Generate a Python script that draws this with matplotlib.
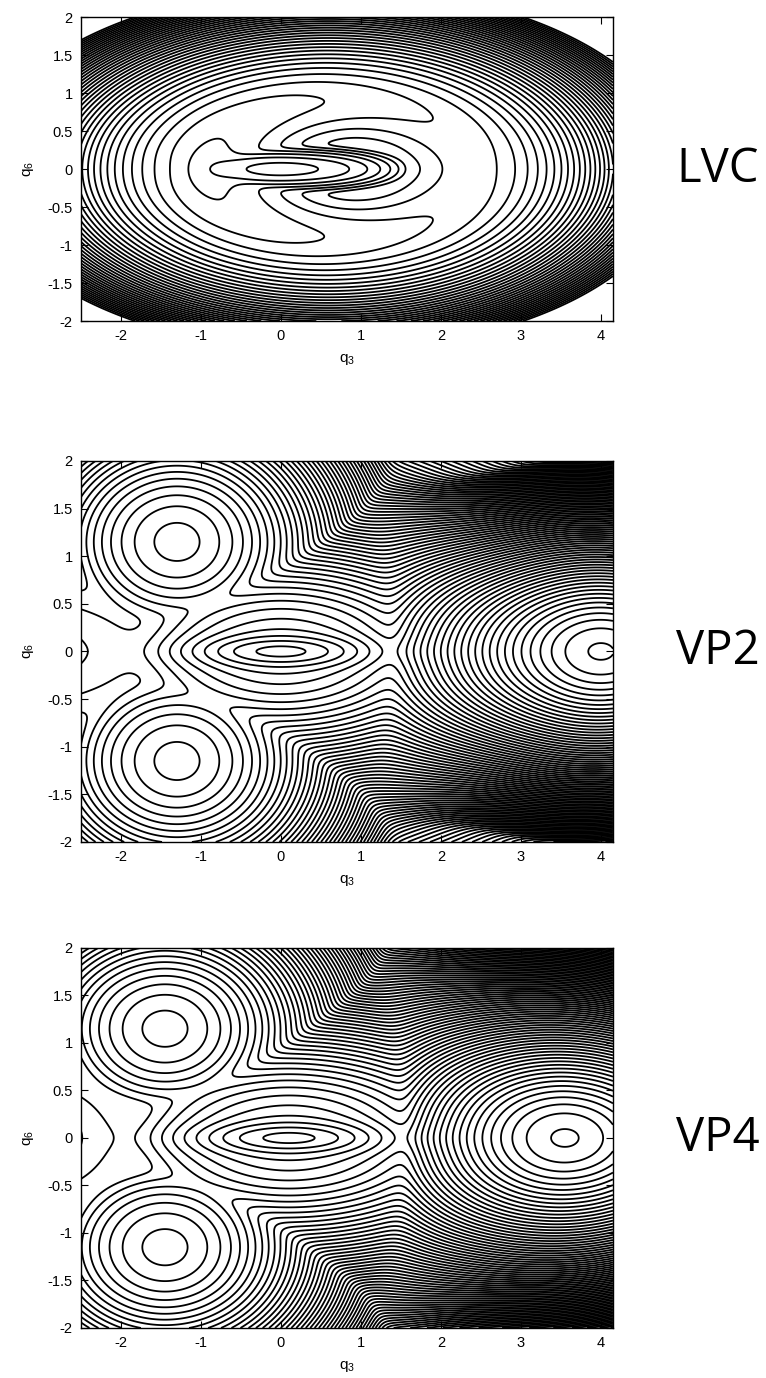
import numpy as np
import matplotlib.pyplot as plt

plt.rcParams['font.family'] = ['Liberation Sans', 'DejaVu Sans']
plt.rcParams['axes.unicode_minus'] = False
plt.rcParams['mathtext.default'] = 'regular'

# grid of the two normal coordinates
q3 = np.linspace(-2.5, 4.15, 800)
q6 = np.linspace(-2.0, 2.0, 640)
Q3, Q6 = np.meshgrid(q3, q6)

x_ticks = [-2, -1, 0, 1, 2, 3, 4]
y_ticks = [-2, -1.5, -1, -0.5, 0, 0.5, 1, 1.5, 2]
y_tick_labels = ['-2', '-1.5', '-1', '-0.5', '0', '0.5', '1', '1.5', '2']
panel_names = ['LVC', 'VP2', 'VP4']

# LVC: two diabatic states with coupling
lvc_state1 = [4.0, 120.0, -0.6, 0.5]           # k3, k6, cubic q3, quartic q3
lvc_state2 = [3.0, 10.0, 0.6, -4.0]            # k3, k6, q3 centre, offset
lvc_bump2 = [11.4, 0.8, 1.47, 0.8]             # height, q3, width q3, width q6
lvc_coupling = [3.0, 0.6]                      # lambda, saturation
lvc_left_mix = [1.0, -0.95, 0.5]               # constant coupling near the left crossing
lvc_stiff = 35.0
lvc_levels = [0.4, 42.7]

# VP surfaces: wells (q3, q6, k3, width of k3 softening, k6, offset)
vp2_q3 = [0.0, -1.3, -1.3, 4.0, -3.5]
vp2_q6 = [0.0, 1.15, -1.15, 0.0, 0.0]
vp2_k3 = [2.2, 5.0, 5.0, 6.0, 0.7]
vp2_c3 = [20.0, 20.0, 20.0, 1.2, 20.0]
vp2_k6 = [12.0, 10.0, 10.0, 20.0, 5.5]
vp2_e0 = [0.0, 0.0, 0.0, -19.75, 4.63]
vp2_dip = [3.0, 0.0, 1.2, 0.15]

vp4_q3 = [0.1, -1.45, -1.45, 3.55, -3.6]
vp4_q6 = [0.0, 1.15, -1.15, 0.0, 0.0]
vp4_k3 = [2.0, 5.0, 5.0, 5.1, 1.16]
vp4_c3 = [20.0, 20.0, 20.0, 2.5, 20.0]
vp4_k6 = [12.0, 11.0, 11.0, 18.0, 5.5]
vp4_e0 = [0.0, 0.0, 0.0, -13.75, 4.0]
vp4_dip = [3.0, 0.1, 1.25, 0.15]

# the right-hand well narrows in q6 as q3 grows (floor, centre, width)
vp_switch = [4.0, 1.6, 0.7]
vp_temp = 1.2


def lvc_surface():
    e1 = (0.5 * lvc_state1[0] * Q3 ** 2 + lvc_state1[2] * Q3 ** 3 + lvc_state1[3] * Q3 ** 4
          + 0.5 * lvc_state1[1] * Q6 ** 2)
    bump = lvc_bump2[0] * np.exp(-((Q3 - lvc_bump2[1]) / lvc_bump2[2]) ** 2 - (Q6 / lvc_bump2[3]) ** 2)
    e2 = (0.5 * lvc_state2[0] * (Q3 - lvc_state2[2]) ** 2 + 0.5 * lvc_state2[1] * Q6 ** 2
          + lvc_state2[3] + bump)
    w1 = lvc_coupling[0] * Q6 / np.sqrt(1 + (Q6 / lvc_coupling[1]) ** 2)
    w0 = lvc_left_mix[0] * np.exp(-((Q3 - lvc_left_mix[1]) / lvc_left_mix[2]) ** 2)
    v = 0.5 * (e1 + e2) - np.sqrt((0.5 * (e1 - e2)) ** 2 + w1 ** 2 + w0 ** 2)
    return v + np.clip(v, 0, None) ** 2 / lvc_stiff


def vp_surface(cx, cy, kx, c3, ky, e0, d):
    p = []
    for i in range(len(cx)):
        dx = Q3 - cx[i]
        dy = Q6 - cy[i]
        fx = 2 * kx[i] * c3[i] ** 2 * (np.sqrt(1 + (dx / c3[i]) ** 2) - 1)
        k6 = ky[i]
        if i == 3:
            k6 = vp_switch[0] + (ky[i] - vp_switch[0]) / (1 + np.exp(-(Q3 - vp_switch[1]) / vp_switch[2]))
        p.append(e0[i] + fx + k6 * dy ** 2)
    p = np.array(p)
    pmin = p.min(axis=0)
    v = pmin - vp_temp * np.log(np.exp(-(p - pmin) / vp_temp).sum(axis=0))
    return v - d[0] * np.exp(-((Q3 - d[1]) / d[2]) ** 2 - (Q6 / d[3]) ** 2)


surfaces = [
    (lvc_surface(), np.arange(lvc_levels[0], lvc_levels[1], 1.0)),
    (vp_surface(vp2_q3, vp2_q6, vp2_k3, vp2_c3, vp2_k6, vp2_e0, vp2_dip), None),
    (vp_surface(vp4_q3, vp4_q6, vp4_k3, vp4_c3, vp4_k6, vp4_e0, vp4_dip), None),
]

fig = plt.figure(figsize=(7.66, 13.78), dpi=100)
boxes = [[0.1057, 0.767, 0.6945, 0.2206],
         [0.1057, 0.389, 0.6945, 0.2765],
         [0.1057, 0.0363, 0.6945, 0.2758]]

for box, (v, levels), name in zip(boxes, surfaces, panel_names):
    ax = fig.add_axes(box)
    if levels is None:
        levels = np.arange(0.4 - 40, v.max(), 1.0)
    ax.contour(Q3, Q6, v, levels=levels, colors='black', linewidths=1.3, linestyles='solid')
    ax.set_xlim(-2.5, 4.15)
    ax.set_ylim(-2, 2)
    ax.set_xticks(x_ticks)
    ax.set_xticklabels([str(t) for t in x_ticks])
    ax.set_yticks(y_ticks)
    ax.set_yticklabels(y_tick_labels)
    ax.tick_params(direction='in', top=True, right=True, length=5, width=0.8,
                   labelsize=10.5, pad=6)
    for s in ax.spines.values():
        s.set_linewidth(1.0)
    ax.set_xlabel('q$_3$', fontsize=11, labelpad=6)
    ax.set_ylabel('q$_6$', fontsize=11, labelpad=8)
    fig.text(0.883, box[1] + box[3] / 2, name, fontsize=34, family=['Open Sans', 'DejaVu Sans'],
             va='center', ha='left')

fig.savefig('out.png', dpi=100)
